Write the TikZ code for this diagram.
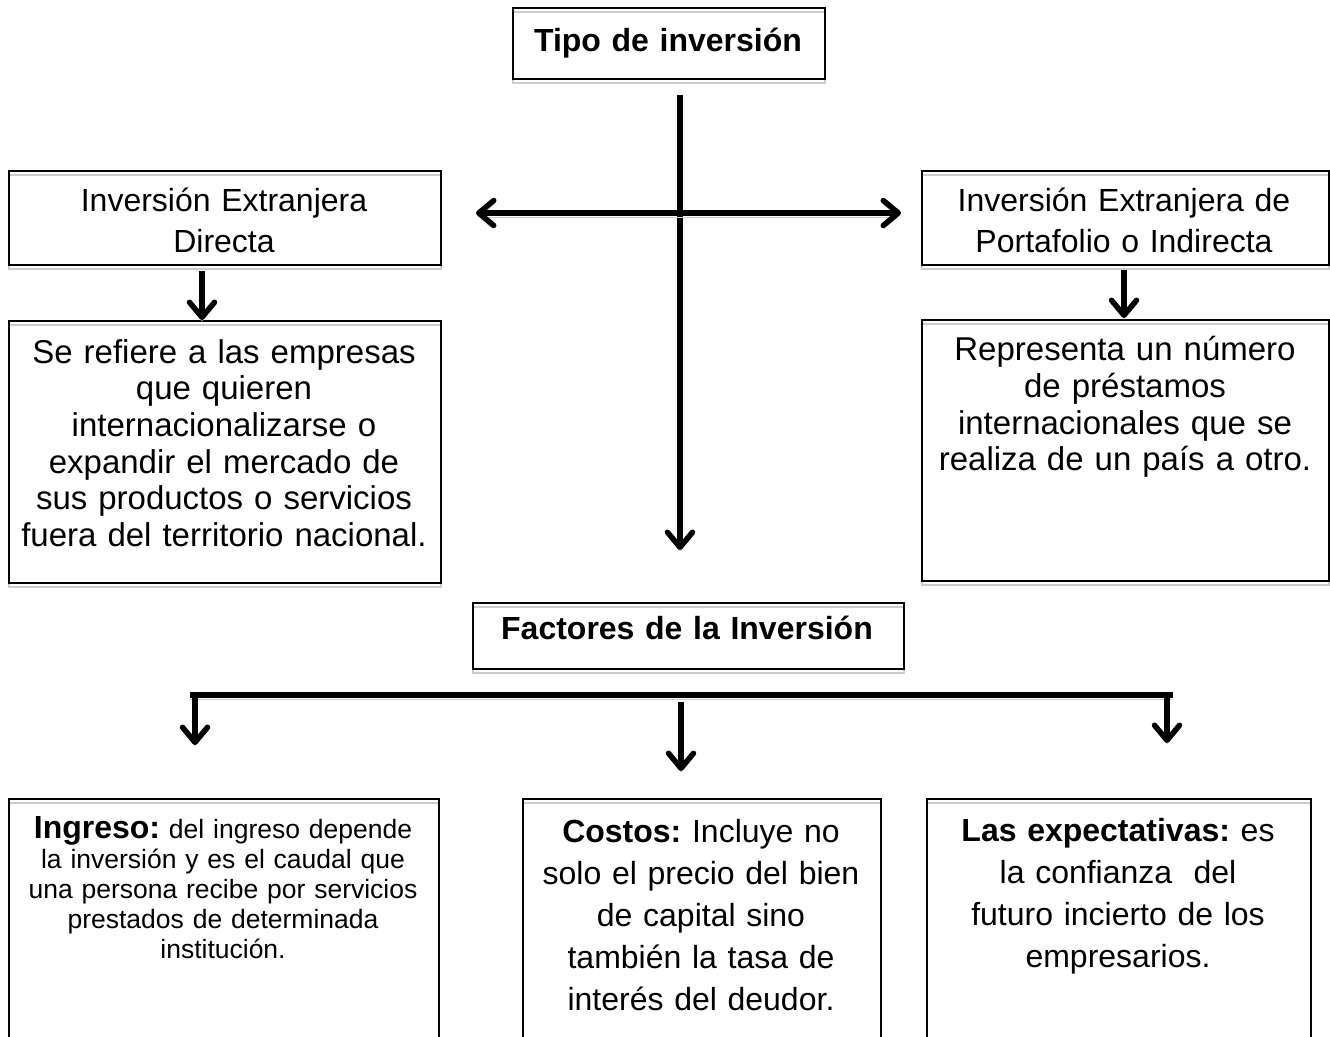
\documentclass[tikz,border=0pt]{standalone}
\usepackage{fontspec}
\setmainfont{Liberation Sans}
\usetikzlibrary{arrows.meta}
\begin{document}
\frenchspacing
\begin{tikzpicture}[x=1pt,y=-1pt,
  shadowed/.style={preaction={draw=black!20, transform canvas={yshift=-4pt}}},
  box/.style={draw, line width=2.2pt, inner sep=0pt, anchor=north west, shadowed},
  txt/.style={inner sep=0pt, align=center, text width=#1},
  txt/.default=420pt,
  big/.style={font=\fontsize{32}{41}\selectfont},
  mid/.style={font=\fontsize{33}{36.7}\selectfont},
  low/.style={font=\fontsize{32}{42}\selectfont},
  small/.style={font=\fontsize{26.5}{30}\selectfont},
  bold/.style={font=\fontsize{32}{38}\selectfont\bfseries},
  tip/.style={-{Straight Barb[length=15pt,width=25pt,round]}},
  conn/.style={line width=5.5pt, tip, shadowed},
  dconn/.style={line width=5.5pt, {Straight Barb[length=15pt,width=25pt,round]}-{Straight Barb[length=15pt,width=25pt,round]}, shadowed},
]
\clip (0,0) rectangle (1330,1036);

% boxes
\node[box, minimum width=312pt, minimum height=71pt] (title) at (512,7) {};
\node[box, minimum width=432pt, minimum height=94pt] (ied) at (8,170) {};
\node[box, minimum width=407pt, minimum height=94pt] (iep) at (921,170) {};
\node[box, minimum width=432pt, minimum height=262pt] (iedd) at (8,320) {};
\node[box, minimum width=407pt, minimum height=261pt] (iepd) at (921,319) {};
\node[box, minimum width=431pt, minimum height=66pt] (fac) at (472,602) {};
\node[box, minimum width=430pt, minimum height=260pt] (ing) at (8,798) {};
\node[box, minimum width=358pt, minimum height=260pt] (cos) at (522,798) {};
\node[box, minimum width=384pt, minimum height=260pt] (exp) at (926,798) {};

% texts
\node[txt=300pt, bold] (titlet) at (668,43) {Tipo de inversión};
\node[txt, big] (iedt) at (224,220) {Inversión Extranjera\\Directa};
\node[txt=400pt, big] (iept) at (1124,220) {Inversión Extranjera de\\Portafolio o Indirecta};
\node[txt=425pt, mid] (iedtd) at (224,443) {Se refiere a las empresas\\que quieren\\internacionalizarse o\\expandir el mercado de\\sus productos o servicios\\fuera del territorio nacional.};
\node[txt=400pt, mid] (ieptd) at (1125,407) {Representa un número\\de préstamos\\internacionales que se\\realiza de un país a otro.};
\node[txt, bold] (fact) at (687,628) {Factores de la Inversión};
\node[txt, small] (ingt) at (223,888) {{\fontsize{32}{30}\selectfont\bfseries Ingreso:} del ingreso depende\\la inversión y es el caudal que\\una persona recibe por servicios\\prestados de determinada\\institución.};
\node[txt=350pt, low] (cost) at (701,915) {\textbf{Costos:} Incluye no\\solo el precio del bien\\de capital sino\\también la tasa de\\interés del deudor.};
\node[txt=380pt, low] (expt) at (1118,896) {\textbf{Las expectativas:} es\\la confianza\ \ del\\futuro incierto de los\\empresarios.};

% connector end points
\coordinate (vtop) at (680,95);
\coordinate (vbot) at (680,550);
\coordinate (hl) at (476,213);
\coordinate (hr) at (901,213);
\coordinate (a1s) at (202,271);
\coordinate (a1e) at (202,320);
\coordinate (a2s) at (1124,270);
\coordinate (a2e) at (1124,318);
\coordinate (barl) at (190,695);
\coordinate (barr) at (1173,695);
\coordinate (b1s) at (195,695);
\coordinate (b1e) at (195,745);
\coordinate (b2s) at (681,702);
\coordinate (b2e) at (681,771);
\coordinate (b3s) at (1167,695);
\coordinate (b3e) at (1167,743);

% connectors
\draw[conn] (vtop) -- (vbot);
\draw[dconn] (hl) -- (hr);
\draw[conn] (a1s) -- (a1e);
\draw[conn] (a2s) -- (a2e);
\draw[line width=6.5pt, shadowed] (barl) -- (barr);
\draw[conn] (b1s) -- (b1e);
\draw[conn] (b2s) -- (b2e);
\draw[conn] (b3s) -- (b3e);
\end{tikzpicture}
\end{document}
